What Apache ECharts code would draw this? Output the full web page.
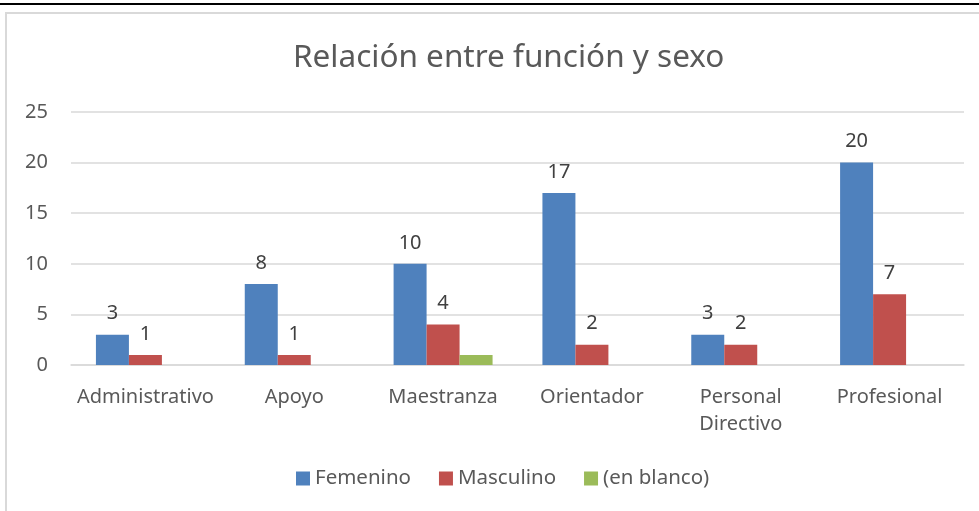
<!DOCTYPE html>
<html lang="es">
<head>
    <meta charset="UTF-8">
    <script src="https://cdn.jsdelivr.net/npm/echarts@6/dist/echarts.min.js"></script>
    <style>
        html, body { margin: 0; padding: 0; background: #fff; }
        #pic { width: 979px; height: 511px; }
    </style>
    <title>Relación entre función y sexo</title>
</head>
<body>
<div id="pic"></div>
<script type="text/javascript">
    var categories = ['Administrativo', 'Apoyo', 'Maestranza', 'Orientador', 'Personal Directivo', 'Profesional'];
    var femenino = [3, 8, 10, 17, 3, 20];
    var masculino = [1, 1, 4, 2, 2, 7];
    var enBlanco = [null, null, 1, null, null, null];
    var yTicks = [0, 5, 10, 15, 20, 25];

    var font = 'Noto Sans';

    // la serie "(en blanco)" no lleva etiqueta en el original
    function barSeries(name, data, color, withLabel) {
        return {
            name: name,
            type: 'bar',
            data: data,
            barGap: '0%',
            barCategoryGap: '33.5%',
            itemStyle: { color: color },
            label: {
                show: withLabel,
                position: 'top',
                distance: 11,
                color: '#404040',
                fontFamily: font,
                fontSize: 20
            }
        };
    }

    var myChart = echarts.init(document.getElementById('pic'));
    var option = {
        animation: false,
        title: {
            text: 'Relación entre función y sexo',
            left: 288,
            top: 37,
            textStyle: { color: '#595959', fontFamily: font, fontSize: 31.5, fontWeight: 'normal' }
        },
        grid: { left: 71, right: 15, top: 112, bottom: 146, containLabel: false },
        legend: {
            top: 468,
            left: 296,
            padding: 0,
            itemWidth: 14,
            itemHeight: 14,
            itemGap: 28,
            icon: 'rect',
            textStyle: { color: '#595959', fontFamily: font, fontSize: 20.5 },
            data: ['Femenino', 'Masculino', '(en blanco)']
        },
        xAxis: {
            type: 'category',
            data: categories,
            axisLine: { lineStyle: { color: '#d9d9d9', width: 1.5 } },
            axisTick: { show: false },
            axisLabel: {
                interval: 0,
                color: '#595959',
                fontFamily: font,
                fontSize: 20,
                margin: 19,
                lineHeight: 27,
                formatter: function (v) { return v.replace(' ', '\n'); }
            }
        },
        yAxis: {
            type: 'value',
            min: yTicks[0],
            max: yTicks[yTicks.length - 1],
            interval: 5,
            axisLine: { show: false },
            axisTick: { show: false },
            splitLine: { lineStyle: { color: '#d9d9d9', width: 1.5 } },
            axisLabel: { color: '#595959', fontFamily: font, fontSize: 20, margin: 23 }
        },
        series: [
            barSeries('Femenino', femenino, '#4f81bd', true),
            barSeries('Masculino', masculino, '#c0504d', true),
            barSeries('(en blanco)', enBlanco, '#9bbb59', false)
        ],
        graphic: [
            { type: 'rect', shape: { x: 6, y: 13, width: 990, height: 520 }, style: { fill: null, stroke: '#d9d9d9', lineWidth: 2 }, silent: true },
            { type: 'line', shape: { x1: 0, y1: 4, x2: 979, y2: 4 }, style: { stroke: '#000', lineWidth: 2 }, silent: true }
        ]
    };
    option && myChart.setOption(option);
</script>
</body>
</html>
